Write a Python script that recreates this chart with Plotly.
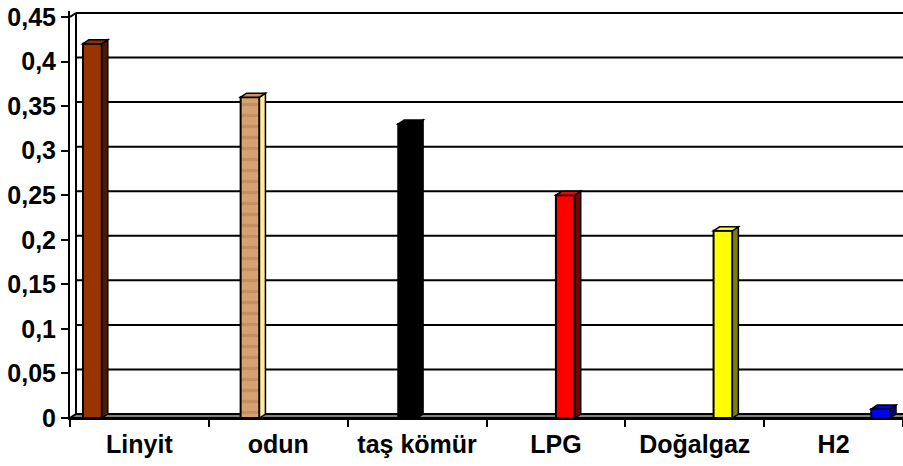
import plotly.graph_objects as go

categories = ["Linyit", "odun", "taş kömür", "LPG", "Doğalgaz", "H2"]
values = [0.42, 0.36, 0.33, 0.25, 0.21, 0.01]
front_colors = ["#993300", "#d6a173", "#000000", "#ff0000", "#ffff00", "#0000ff"]
side_colors = ["#4d1a00", "#ffe9a6", "#000000", "#800000", "#808000", "#000080"]
top_colors = ["#8f2f00", "#c99365", "#000000", "#ff0000", "#ffff00", "#0000ee"]
y_tickvals = [0, 0.05, 0.1, 0.15, 0.2, 0.25, 0.3, 0.35, 0.4, 0.45]
y_ticktext = ["0", "0,05", "0,1", "0,15", "0,2", "0,25", "0,3", "0,35", "0,4", "0,45"]

W, H = 903, 466
ML, MR, MT, MB = 70, 0, 11, 48
plot_w = W - ML - MR
plot_h = H - MT - MB
ymax_tick = 0.45
px_per_unit = 401 / ymax_tick
y_top = plot_h / px_per_unit
n = len(categories)
x_per_px = n / plot_w
y_per_px = 1 / px_per_unit
DX = 6 * x_per_px
DY = 4 * y_per_px

bargap = 0.187
bw = (1 - bargap) / n

font = dict(family="Liberation Sans, Arial, sans-serif", size=25, color="#000000", weight="bold")

fig = go.Figure()
shapes = []

# back wall / floor / gridlines
shapes.append(dict(type="path", xref="x", yref="y", layer="below",
                   path=f"M {-0.5},0 L {-0.5+DX},{DY} L {n-0.5+1},{DY} L {n-0.5+1},0 Z",
                   fillcolor="#808080", line=dict(color="#000000", width=2)))
for v in y_tickvals[1:]:
    shapes.append(dict(type="line", xref="x", yref="y", layer="below",
                       x0=-0.5 + DX, x1=n - 0.5, y0=v + DY, y1=v + DY,
                       line=dict(color="#000000", width=2)))
shapes.append(dict(type="line", xref="x", yref="y", layer="below",
                   x0=-0.5 + DX, x1=-0.5 + DX, y0=DY, y1=ymax_tick + DY,
                   line=dict(color="#000000", width=2)))
shapes.append(dict(type="line", xref="x", yref="y", layer="below",
                   x0=-0.5, x1=-0.5 + DX, y0=ymax_tick, y1=ymax_tick + DY,
                   line=dict(color="#000000", width=2)))

for i, (cat, val) in enumerate(zip(categories, values)):
    yv = [None] * n
    yv[i] = val
    off = -(1 - bargap) / 2 + i * bw
    marker = dict(color=front_colors[i], line=dict(color="#000000", width=2))
    if cat == "odun":
        marker["pattern"] = dict(shape="-", fgcolor="#b57d4e", bgcolor=front_colors[i],
                                 size=11, solidity=0.3, fillmode="overlay")
    fig.add_trace(go.Bar(
        x=categories, y=yv, width=bw, offset=off,
        marker=marker, showlegend=False, hoverinfo="skip"))
    xl = i + off
    xr = xl + bw
    # side face
    shapes.append(dict(type="path", xref="x", yref="y", layer="above",
                       path=f"M {xr},0 L {xr+DX},{DY} L {xr+DX},{val+DY} L {xr},{val} Z",
                       fillcolor=side_colors[i], line=dict(color="#000000", width=1.5)))
    # top face
    shapes.append(dict(type="path", xref="x", yref="y", layer="above",
                       path=f"M {xl},{val} L {xl+DX},{val+DY} L {xr+DX},{val+DY} L {xr},{val} Z",
                       fillcolor=top_colors[i], line=dict(color="#000000", width=1.5)))

fig.update_layout(
    width=W, height=H,
    margin=dict(l=ML, r=MR, t=MT, b=MB, autoexpand=False),
    paper_bgcolor="#ffffff", plot_bgcolor="#ffffff",
    barmode="overlay",
    shapes=shapes,
    font=font,
)
fig.update_xaxes(type="category", range=[-0.5, n - 0.5], showgrid=False,
                 showline=True, linecolor="#000000", linewidth=2,
                 ticks="outside", tickson="boundaries", ticklen=7, tickwidth=2,
                 tickcolor="#000000", tickfont=font, zeroline=False, automargin=False,
                 ticklabelstandoff=3)
fig.update_yaxes(range=[0, y_top], tickvals=y_tickvals, ticktext=y_ticktext,
                 showgrid=False, zeroline=False, showline=True, linecolor="#000000",
                 linewidth=2, ticks="outside", ticklen=7, tickwidth=2,
                 tickcolor="#000000", tickfont=font, automargin=False)

fig.write_html("out.html", config={"displayModeBar": False},
               post_script="document.body.style.margin='0';document.body.style.padding='0';")
